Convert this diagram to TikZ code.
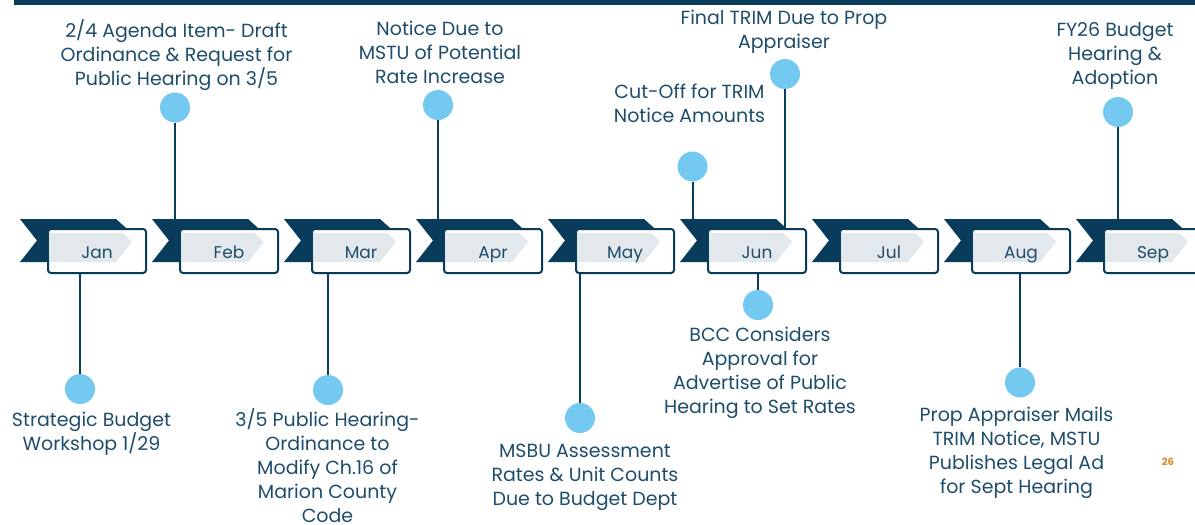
\documentclass[tikz,border=0pt]{standalone}
\usepackage{fontspec}
\setmainfont{Poppins}
\definecolor{navy}{RGB}{8,60,90}
\definecolor{txt}{RGB}{30,77,107}
\definecolor{dot}{RGB}{116,201,241}
\definecolor{boxgray}{RGB}{227,232,236}
\definecolor{pg}{RGB}{217,138,43}
\begin{document}
\begin{tikzpicture}[x=1pt,y=-1pt,
  lbl/.style={font=\fontsize{19}{24}\selectfont, text=txt, align=center, inner sep=0pt},
  mtxt/.style={font=\fontsize{17}{20}\selectfont, text=txt, inner sep=0pt, anchor=base},
  dotc/.style={circle, fill=dot, minimum size=30pt, inner sep=0pt},
  conn/.style={draw=navy, line width=2pt},
  monthbox/.style={rounded corners=3pt, draw=navy, line width=2pt, minimum width=98pt, minimum height=44pt, inner sep=0pt, fill=white}
]
\useasboundingbox (0,0) rectangle (1195,525);
\clip (0,0) rectangle (1195,525);
\fill[navy] (14,0) rectangle (1195,5);

% chevrons
\foreach \m [count=\i from 0] in {Jan,Feb,Mar,Apr,May,Jun,Jul,Aug,Sep} {
  \pgfmathsetmacro\ox{20+132*\i}
  \fill[navy] (\ox,219) -- ++(96,0) -- ++(24,21.5) -- ++(-24,21.5) -- ++(-96,0) -- ++(17,-21.5) -- cycle;
  \node[monthbox] (m\i) at (\ox+77,251) {};
  \fill[boxgray] (\ox+29,233) -- (\ox+103,233) -- (\ox+112,242) -- (\ox+96,262) -- (\ox+29,262) -- cycle;
  \node[mtxt] (t\i) at (\ox+77,258) {\m};
}

% dots
\node[dotc] (c0) at (80,389) {};
\node[dotc] (c1) at (175,107.5) {};
\node[dotc] (c2) at (328,390) {};
\node[dotc] (c3) at (438,105) {};
\node[dotc] (c4) at (580,418) {};
\node[dotc] (c5) at (692.5,166.5) {};
\node[dotc] (c6) at (785,74) {};
\node[dotc] (c7) at (758,305) {};
\node[dotc] (c8) at (1020,382.5) {};
\node[dotc] (c9) at (1118,112) {};

% connectors
\draw[conn] (c0.north) -- (c0.north |- m0.south);
\draw[conn] (c1.south) -- (c1.south |- m1.north);
\draw[conn] (c2.north) -- (c2.north |- m2.south);
\draw[conn] (c3.south) -- (c3.south |- m3.north);
\draw[conn] (c4.north) -- (c4.north |- m4.south);
\draw[conn] (c5.south) -- (c5.south |- m5.north);
\draw[conn] (c6.south) -- (c6.south |- m5.north);
\draw[conn] (c7.north) -- (c7.north |- m5.south);
\draw[conn] (c8.north) -- (c8.north |- m7.south);
\draw[conn] (c9.south) -- (c9.south |- m8.north);

% labels
\node[lbl] (l0) at (91.5,434) {Strategic Budget\\Workshop 1/29};
\node[lbl] (l1) at (176.5,55.5) {2/4 Agenda Item- Draft\\Ordinance \& Request for\\Public Hearing on 3/5};
\node[lbl] (l2) at (327.5,465.5) {3/5 Public Hearing-\\Ordinance to\\Modify Ch.16 of\\Marion County\\Code};
\node[lbl] (l3) at (440,52) {Notice Due to\\MSTU of Potential\\Rate Increase};
\node[lbl] (l4) at (585,477) {MSBU Assessment\\Rates \& Unit Counts\\Due to Budget Dept};
\node[lbl] (l5) at (689.5,103) {Cut-Off for TRIM\\Notice Amounts};
\node[lbl] (l6) at (784,32) {Final TRIM Due to Prop\\Appraiser};
\node[lbl] (l7) at (760,373) {BCC Considers\\Approval for\\Advertise of Public\\Hearing to Set Rates};
\node[lbl] (l8) at (1016.5,453) {Prop Appraiser Mails\\TRIM Notice, MSTU\\Publishes Legal Ad\\for Sept Hearing};
\node[lbl] (l9) at (1115,55.5) {FY26 Budget\\Hearing \&\\Adoption};

\node[font=\bfseries\fontsize{10}{12}\selectfont, text=pg, inner sep=0pt] (pn) at (1168,462) {26};
\end{tikzpicture}
\end{document}
